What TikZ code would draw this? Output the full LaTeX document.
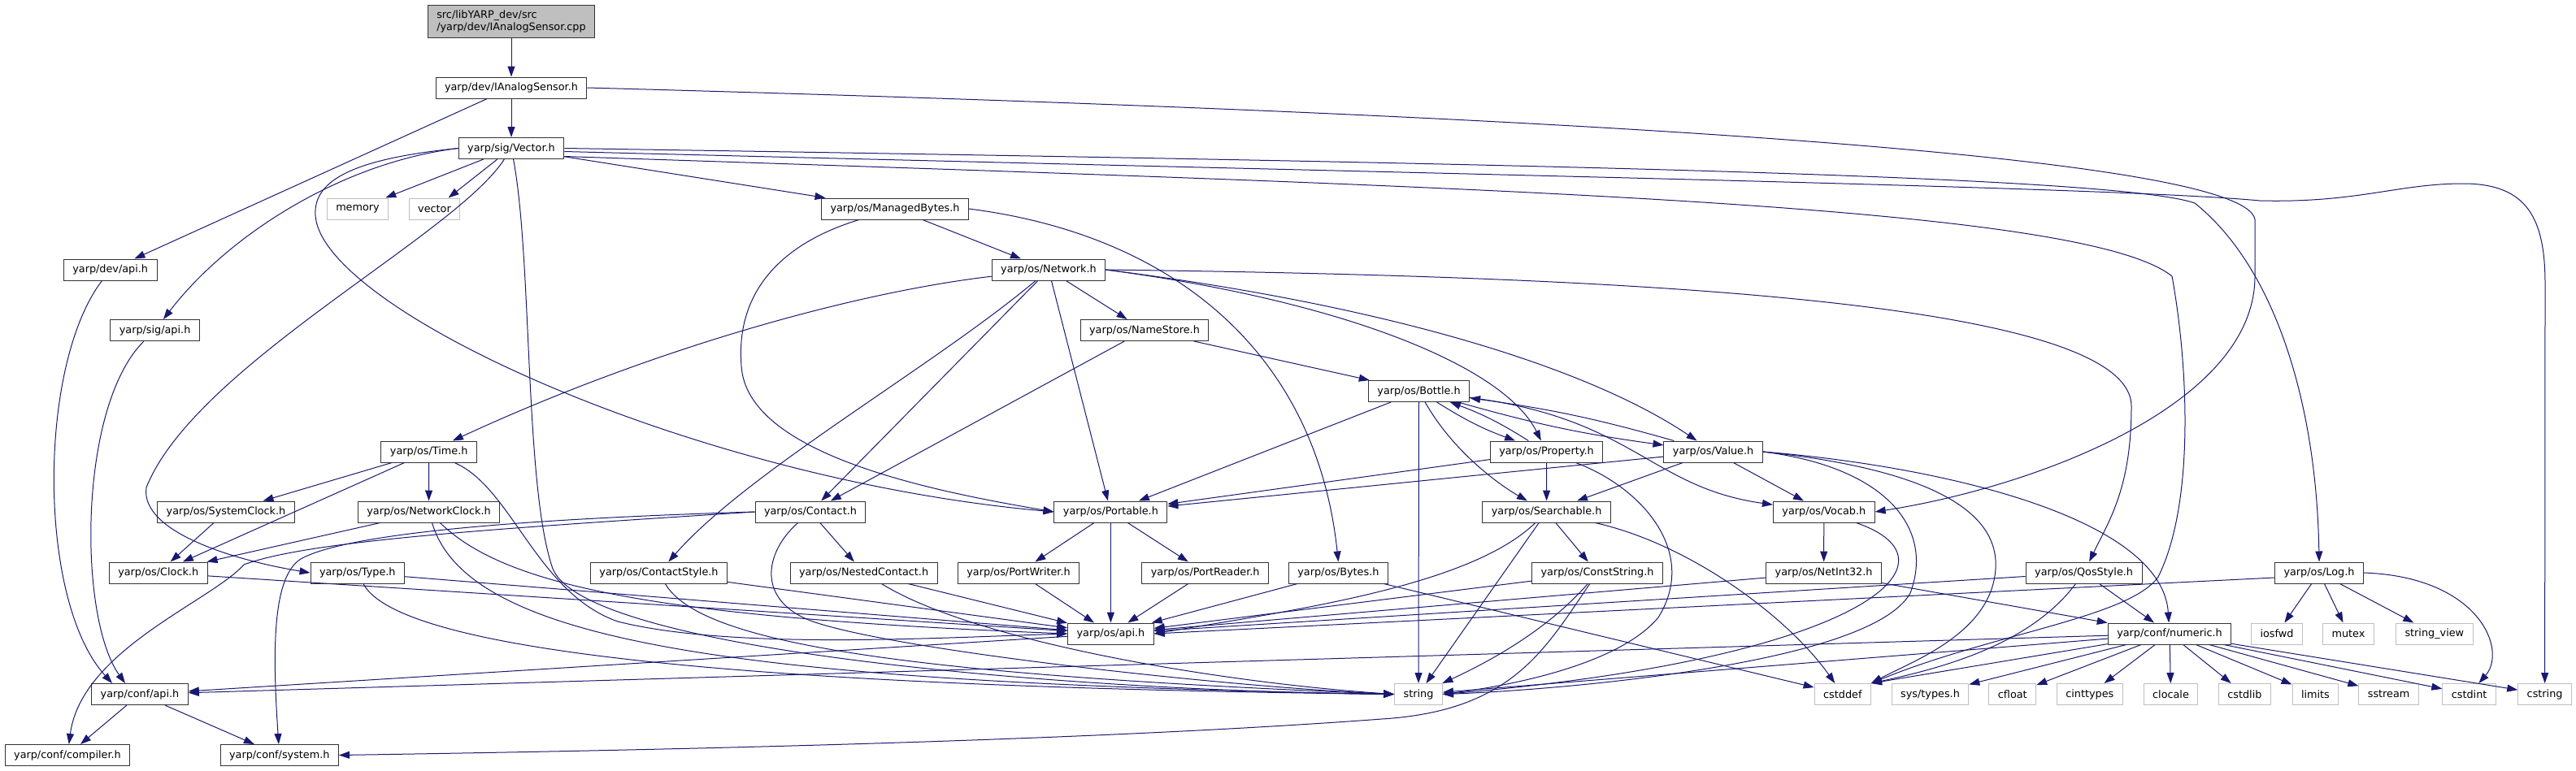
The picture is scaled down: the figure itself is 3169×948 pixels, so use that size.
\documentclass[tikz,border=0pt]{standalone}
\usepackage{fontspec}
\setmainfont{DejaVu Sans}
\usepackage{tikz}
\usetikzlibrary{arrows.meta,positioning}
\definecolor{edgeblue}{HTML}{191970}
\definecolor{boxgrey}{HTML}{BFBFBF}

\begin{document}
\begin{tikzpicture}[x=1pt, y=-1pt, line width=1pt, font=\fontsize{12.8}{15}\selectfont]
   \useasboundingbox (0,0) rectangle (3169,948);
   \begin{scope}[every node/.style={draw=black!80,fill=white,minimum height=26pt,inner xsep=11pt,inner ysep=0pt}]
    \node (cpp) [fill=boxgrey, align=left, minimum height=40pt] at (629,26) {src/libYARP\_dev/src\\/yarp/dev/IAnalogSensor.cpp};
    \node (ias) at (629,108) {yarp/dev/IAnalogSensor.h};
    \node (vec) at (629,182.5) {yarp/sig/Vector.h};
    \node (mb) at (1101,257) {yarp/os/ManagedBytes.h};
    \node (devapi) at (135.7,332) {yarp/dev/api.h};
    \node (net) at (1290,332) {yarp/os/Network.h};
    \node (sigapi) at (190.6,406.5) {yarp/sig/api.h};
    \node (names) at (1408,406.5) {yarp/os/NameStore.h};
    \node (bottle) at (1745.5,481.5) {yarp/os/Bottle.h};
    \node (time) at (527.7,556) {yarp/os/Time.h};
    \node (prop) at (1902.5,556) {yarp/os/Property.h};
    \node (value) at (2107.6,556) {yarp/os/Value.h};
    \node (sysclk) at (278,630) {yarp/os/SystemClock.h};
    \node (netclk) at (527.5,630) {yarp/os/NetworkClock.h};
    \node (contact) at (997,630) {yarp/os/Contact.h};
    \node (portable) at (1366.4,630) {yarp/os/Portable.h};
    \node (search) at (1902.6,630) {yarp/os/Searchable.h};
    \node (vocab) at (2243.8,630) {yarp/os/Vocab.h};
    \node (clock) at (194.7,705) {yarp/os/Clock.h};
    \node (type) at (439.8,705) {yarp/os/Type.h};
    \node (cstyle) at (810.5,705) {yarp/os/ContactStyle.h};
    \node (nested) at (1062.6,705) {yarp/os/NestedContact.h};
    \node (pwriter) at (1253,705) {yarp/os/PortWriter.h};
    \node (preader) at (1482.7,705) {yarp/os/PortReader.h};
    \node (bytes) at (1646.4,705) {yarp/os/Bytes.h};
    \node (cstr) at (1965,705) {yarp/os/ConstString.h};
    \node (netint) at (2243.6,705) {yarp/os/NetInt32.h};
    \node (qos) at (2563.6,705) {yarp/os/QosStyle.h};
    \node (log) at (2853,705) {yarp/os/Log.h};
    \node (osapi) at (1366.4,780) {yarp/os/api.h};
    \node (numeric) at (2669,780) {yarp/conf/numeric.h};
    \node (confapi) at (172,854.5) {yarp/conf/api.h};
    \node (compiler) at (83,929.5) {yarp/conf/compiler.h};
    \node (system) at (343.8,929.5) {yarp/conf/system.h};
   \end{scope}
   \begin{scope}[every node/.style={draw=boxgrey,fill=white,minimum height=26pt,inner xsep=11pt,inner ysep=0pt}]
    \node (mem) at (440,257) {memory};
    \node (vecstd) at (534.5,257) {vector};
    \node (iosfwd) at (2801,780) {iosfwd};
    \node (mutex) at (2889,780) {mutex};
    \node (strview) at (2994.8,780) {string\_view};
    \node (string) at (1745,854.5) {string};
    \node (cstddef) at (2266.8,854.5) {cstddef};
    \node (systypes) at (2374.5,854.5) {sys/types.h};
    \node (cfloat) at (2475.8,854.5) {cfloat};
    \node (cinttypes) at (2570.8,854.5) {cinttypes};
    \node (clocale) at (2670.5,854.5) {clocale};
    \node (cstdlib) at (2761.4,854.5) {cstdlib};
    \node (limits) at (2848.4,854.5) {limits};
    \node (sstream) at (2938.6,854.5) {sstream};
    \node (cstdint) at (3037.6,854.5) {cstdint};
    \node (cstring) at (3130.6,854.5) {cstring};
   \end{scope}
   \begin{scope}[edgeblue, -{Triangle[length=13pt,width=9pt]}]
    \draw (cpp) -- (ias);
    \draw (ias) -- (vec);
    \draw (ias) -- (devapi);
    \draw (ias.east) .. controls (1900,140) and (2760,190) .. (2774,270) -- (2774,340) .. controls (2774,500) and (2500,600) .. (vocab.east);
    \draw (vec) -- (mem);
    \draw (vec) -- (vecstd);
    \draw (vec) -- (mb);
    \draw (vec.west) .. controls (420,200) and (280,290) .. (sigapi);
    \draw (vec.west) .. controls (440,195) and (385,220) .. (388,265) .. controls (395,380) and (850,590) .. (portable.west);
    \draw (vec) .. controls (560,290) and (240,450) .. (180,600) .. controls (172,655) and (290,690) .. (type.west);
    \draw (vec) .. controls (655,320) and (645,600) .. (680,700) .. controls (720,800) and (1300,850) .. (string.west);
    \draw (vec.east) .. controls (1800,200) and (2600,215) .. (2700,250) .. controls (2800,330) and (2850,500) .. (log.north);
    \draw ([yshift=-4pt]vec.east) .. controls (1800,215) and (2600,230) .. (2780,247) .. controls (2900,250) and (2950,226) .. (3030,226) .. controls (3110,226) and (3131,270) .. (3131,350) -- (cstring);
    \draw ([yshift=-10pt]vec.east) .. controls (1800,230) and (2560,250) .. (2672,340) .. controls (2692,450) and (2700,620) .. (2655,710) .. controls (2620,760) and (2450,780) .. (cstddef.north east);
    \draw (devapi) .. controls (46,450) and (46,740) .. ([xshift=-34pt]confapi.north);
    \draw (sigapi) .. controls (96,500) and (96,760) .. ([xshift=-18pt]confapi.north);
    \draw (mb) -- (net);
    \draw (mb) .. controls (960,300) and (905,360) .. (912,450) .. controls (918,560) and (1150,605) .. (portable.west);
    \draw (mb.east) .. controls (1450,290) and (1620,440) .. (bytes.north);
    \draw (net) .. controls (1050,360) and (800,430) .. (time);
    \draw (net) -- (names);
    \draw (net) -- (contact);
    \draw (net) .. controls (1150,450) and (920,580) .. (cstyle);
    \draw (net) -- (portable);
    \draw (net.east) .. controls (1650,370) and (1850,450) .. (prop);
    \draw (net.east) .. controls (1700,375) and (1950,450) .. (value);
    \draw (net.east) .. controls (2000,340) and (2622,370) .. (2622,500) .. controls (2622,600) and (2595,640) .. (qos);
    \draw (names) -- (bottle);
    \draw (names) -- (contact);
    \draw (time) -- (sysclk);
    \draw (time) -- (netclk);
    \draw (time) -- (clock);
    \draw (time) .. controls (630,600) and (660,730) .. (760,765) .. controls (900,800) and (1150,785) .. (osapi.west);
    \draw (sysclk) -- (clock);
    \draw (netclk) -- (clock);
    \draw (netclk) .. controls (620,720) and (800,760) .. (osapi.west);
    \draw (netclk) .. controls (575,790) and (900,840) .. (string.west);
    \draw (clock) -- (osapi);
    \draw (type) -- (osapi);
    \draw (type) .. controls (490,800) and (900,845) .. (string.west);
    \draw (contact) -- (nested);
    \draw (contact.west) .. controls (620,650) and (380,665) .. (300,695) .. controls (260,740) and (100,800) .. (compiler);
    \draw (contact.west) .. controls (600,640) and (420,660) .. (370,688) .. controls (335,710) and (335,800) .. (system);
    \draw (contact) .. controls (940,680) and (930,740) .. (1000,765) .. controls (1100,800) and (1500,845) .. (string.west);
    \draw (cstyle) -- (osapi);
    \draw (cstyle) .. controls (860,790) and (1100,830) .. (string.west);
    \draw (nested) -- (osapi);
    \draw (nested) .. controls (1200,790) and (1500,840) .. (string.west);
    \draw (portable) -- (pwriter);
    \draw (portable) -- (preader);
    \draw (portable) -- (osapi);
    \draw (pwriter) -- (osapi);
    \draw (preader) -- (osapi);
    \draw (bytes) -- (osapi);
    \draw (bytes) -- (cstddef);
    \draw (bottle) to[bend right=6] (prop);
    \draw (prop) to[bend right=6] (bottle);
    \draw (bottle) to[bend right=4] (value);
    \draw (value) to[bend right=4] (bottle);
    \draw (bottle) .. controls (1790,560) and (1850,600) .. (search);
    \draw (bottle) .. controls (2010,515) and (2030,600) .. (vocab);
    \draw (bottle) -- (portable);
    \draw (bottle) -- (string);
    \draw (prop) -- (portable);
    \draw (prop) -- (search);
    \draw (prop) .. controls (2020,600) and (2090,680) .. (2040,760) .. controls (1990,820) and (1850,845) .. (string.east);
    \draw (value) -- (portable);
    \draw (value) -- (search);
    \draw (value) -- (vocab);
    \draw (value.east) .. controls (2400,575) and (2660,640) .. (numeric);
    \draw (value.east) .. controls (2320,575) and (2380,650) .. (2350,730) .. controls (2300,820) and (1900,850) .. (string.east);
    \draw (value.east) .. controls (2350,575) and (2460,620) .. (2455,700) .. controls (2450,780) and (2350,815) .. (cstddef.north east);
    \draw (search) .. controls (1810,720) and (1600,750) .. (osapi.east);
    \draw (search) -- (cstr);
    \draw (search) -- (string);
    \draw (search) .. controls (2080,670) and (2200,760) .. (cstddef);
    \draw (cstr) -- (osapi);
    \draw (cstr) .. controls (1900,780) and (1820,820) .. (string);
    \draw (cstr) .. controls (1900,800) and (1860,875) .. (1700,885) .. controls (1300,915) and (700,925) .. (system.east);
    \draw (vocab) -- (netint);
    \draw (vocab) .. controls (2420,690) and (2300,810) .. (string.east);
    \draw (netint) -- (osapi);
    \draw (netint) -- (numeric);
    \draw (qos) -- (osapi);
    \draw (qos) -- (numeric);
    \draw (qos) .. controls (2500,790) and (2400,820) .. (cstddef.north east);
    \draw ([yshift=-6pt]log.west) -- (osapi.east);
    \draw (log) -- (iosfwd);
    \draw (log) -- (mutex);
    \draw (log) -- (strview);
    \draw (log.east) .. controls (3050,710) and (3085,800) .. (cstdint);
    \draw (osapi) -- (confapi);
    \draw (numeric) -- (confapi);
    \draw (numeric) -- (string);
    \draw (numeric) -- (cstddef.north east);
    \draw (numeric) -- (systypes);
    \draw (numeric) -- (cfloat);
    \draw (numeric) -- (cinttypes);
    \draw (numeric) -- (clocale);
    \draw (numeric) -- (cstdlib);
    \draw (numeric) -- (limits);
    \draw (numeric) -- (sstream);
    \draw (numeric) -- (cstdint);
    \draw (numeric) -- (cstring);
    \draw (confapi) -- (compiler);
    \draw (confapi) -- (system);
   \end{scope}
\end{tikzpicture}
\end{document}
